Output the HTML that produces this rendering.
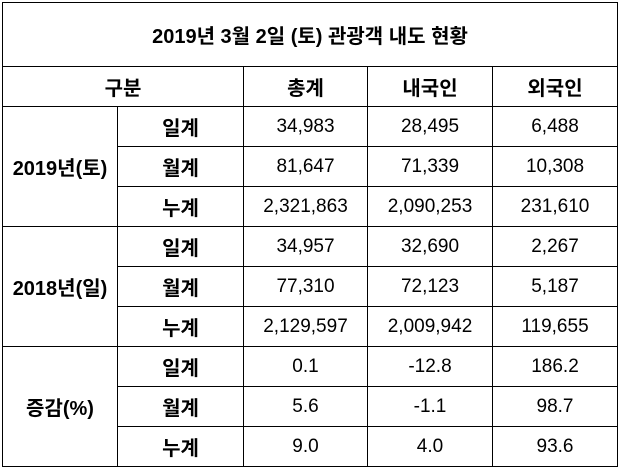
<!DOCTYPE html>
<html><head><meta charset="utf-8"><style>
body{margin:0;background:#fff;width:619px;height:469px;overflow:hidden}
table{position:absolute;left:2px;top:2px;width:615px;table-layout:fixed;border-collapse:collapse;font-family:"Liberation Sans","Noto Sans CJK KR","NanumGothic",sans-serif;font-size:19px;color:#000}
td{border:1px solid #000;text-align:center;padding:0;height:39px;white-space:nowrap;overflow:hidden}
.b{font-weight:bold;font-size:20px}
.t td{height:63px;font-weight:bold;font-size:20px}
</style></head><body>
<table>
<colgroup><col style="width:115px"><col style="width:126px"><col style="width:124px"><col style="width:125px"><col style="width:125px"></colgroup>
<tr class="t"><td colspan="5">2019년 3월 2일 (토) 관광객 내도 현황</td></tr>
<tr class="b"><td colspan="2">구분</td><td>총계</td><td>내국인</td><td>외국인</td></tr>
<tr><td rowspan="3" class="b">2019년(토)</td><td class="b">일계</td><td>34,983</td><td>28,495</td><td>6,488</td></tr>
<tr><td class="b">월계</td><td>81,647</td><td>71,339</td><td>10,308</td></tr>
<tr><td class="b">누계</td><td>2,321,863</td><td>2,090,253</td><td>231,610</td></tr>
<tr><td rowspan="3" class="b">2018년(일)</td><td class="b">일계</td><td>34,957</td><td>32,690</td><td>2,267</td></tr>
<tr><td class="b">월계</td><td>77,310</td><td>72,123</td><td>5,187</td></tr>
<tr><td class="b">누계</td><td>2,129,597</td><td>2,009,942</td><td>119,655</td></tr>
<tr><td rowspan="3" class="b">증감(%)</td><td class="b">일계</td><td>0.1</td><td>-12.8</td><td>186.2</td></tr>
<tr><td class="b">월계</td><td>5.6</td><td>-1.1</td><td>98.7</td></tr>
<tr><td class="b">누계</td><td>9.0</td><td>4.0</td><td>93.6</td></tr>
</table>
</body></html>
